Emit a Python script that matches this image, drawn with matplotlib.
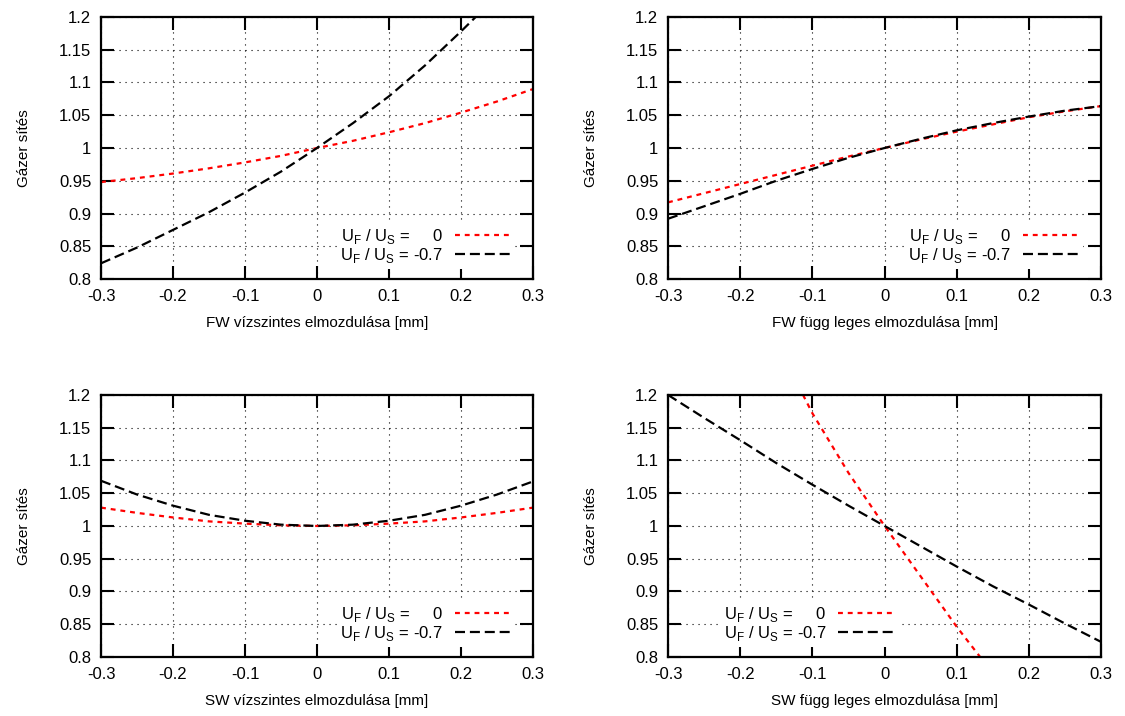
import numpy as np
import matplotlib
matplotlib.use("Agg")
import matplotlib.pyplot as plt

plt.rcParams['font.family'] = ['Liberation Sans', 'DejaVu Sans']

# x positions shared by all panels [mm]
x_pos = [-0.3, -0.25, -0.2, -0.15, -0.1, -0.05, 0.0, 0.05, 0.1, 0.15, 0.2, 0.25, 0.3]

# FW horizontal
fw_h_u0 = [0.948, 0.954, 0.961, 0.969, 0.978, 0.988, 1.0, 1.011, 1.024, 1.038, 1.054, 1.071, 1.090]
fw_h_u07 = [0.824, 0.848, 0.875, 0.902, 0.932, 0.964, 1.0, 1.038, 1.079, 1.126, 1.178, 1.232, 1.29]

# FW vertical
fw_v_u0 = [0.917, 0.931, 0.945, 0.959, 0.973, 0.987, 1.0, 1.013, 1.025, 1.036, 1.047, 1.056, 1.064]
fw_v_u07 = [0.892, 0.911, 0.930, 0.950, 0.968, 0.985, 1.0, 1.014, 1.027, 1.038, 1.048, 1.057, 1.064]

# SW horizontal
sw_h_u0 = [1.028, 1.020, 1.013, 1.007, 1.0036, 1.001, 1.0, 1.001, 1.0036, 1.007, 1.013, 1.020, 1.028]
sw_h_u07 = [1.069, 1.048, 1.031, 1.017, 1.008, 1.002, 1.0, 1.002, 1.008, 1.017, 1.031, 1.048, 1.068]

# SW vertical
sw_v_x0 = [-0.15, -0.1, -0.05, 0.0, 0.05, 0.1, 0.15]
sw_v_u0 = [1.28, 1.172, 1.081, 1.0, 0.923, 0.846, 0.775]
sw_v_u07 = [1.2, 1.165, 1.131, 1.096, 1.063, 1.031, 1.0, 0.969, 0.938, 0.908, 0.880, 0.851, 0.823]

x_ticks = [-0.3, -0.2, -0.1, 0.0, 0.1, 0.2, 0.3]
x_tick_labels = ['-0.3', '-0.2', '-0.1', '0', '0.1', '0.2', '0.3']
y_ticks = [0.8, 0.85, 0.9, 0.95, 1.0, 1.05, 1.1, 1.15, 1.2]
y_tick_labels = ['0.8', '0.85', '0.9', '0.95', '1', '1.05', '1.1', '1.15', '1.2']

y_label = 'Gázer sítés'
label_u0 = r'U$_\mathregular{F}$ / U$_\mathregular{S}$ =     0'
label_u07 = r'U$_\mathregular{F}$ / U$_\mathregular{S}$ = -0.7'

# rect, xlabel, red x, red y, black x, black y, legend right edge (axes fraction)
panels = [
    ([0.0898, 0.6103, 0.384, 0.366], 'FW vízszintes elmozdulása [mm]', x_pos, fw_h_u0, x_pos, fw_h_u07, 0.958),
    ([0.5938, 0.6103, 0.385, 0.366], 'FW függ leges elmozdulása [mm]', x_pos, fw_v_u0, x_pos, fw_v_u07, 0.958),
    ([0.0898, 0.0824, 0.384, 0.366], 'SW vízszintes elmozdulása [mm]', x_pos, sw_h_u0, x_pos, sw_h_u07, 0.958),
    ([0.5938, 0.0824, 0.385, 0.366], 'SW függ leges elmozdulása [mm]', sw_v_x0, sw_v_u0, x_pos, sw_v_u07, 0.531),
]

fig = plt.figure(figsize=(11.25, 7.16), dpi=100)

for rect, xlab, xr, yr, xb, yb, leg_x in panels:
    ax = fig.add_axes(rect)
    ax.plot(xr, yr, color='red', lw=1.6, dashes=(2.2, 2.2), label=label_u0)
    ax.plot(xb, yb, color='black', lw=1.6, dashes=(4.5, 2.2), label=label_u07)
    ax.set_xlim(-0.3, 0.3)
    ax.set_ylim(0.8, 1.2)
    ax.set_xticks(x_ticks)
    ax.set_xticklabels(x_tick_labels)
    ax.set_yticks(y_ticks)
    ax.set_yticklabels(y_tick_labels)
    ax.grid(True, color='black', lw=0.8, linestyle=(0, (1, 4.4)))
    ax.tick_params(direction='in', length=9.5, width=1.5, top=True, right=True,
                   labelsize=12)
    ax.tick_params(axis='x', pad=7)
    ax.tick_params(axis='y', pad=7)
    for s in ax.spines.values():
        s.set_linewidth(1.6)
    ax.set_xlabel(xlab, fontsize=11, labelpad=9)
    ax.set_ylabel(y_label, fontsize=11, labelpad=20)
    leg = ax.legend(loc='lower right', bbox_to_anchor=(leg_x, 0.04), markerfirst=False,
                    fontsize=12, frameon=True, framealpha=1, edgecolor='none',
                    facecolor='white', fancybox=False, handlelength=3.4,
                    borderpad=0.2, labelspacing=0.0, handletextpad=0.7, borderaxespad=0)
    for t in leg.get_texts():
        t.set_ha('right')

fig.savefig('out.png', dpi=100)
